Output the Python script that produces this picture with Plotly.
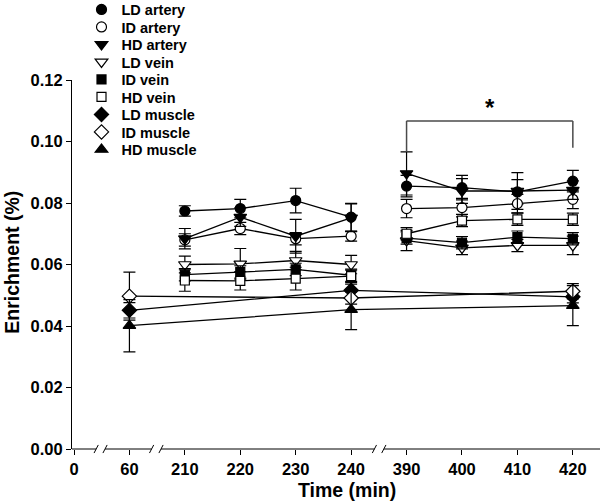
import plotly.graph_objects as go

# ---- data ----
time_labels = ["0", "60", "210", "220", "230", "240", "390", "400", "410", "420"]
blood_times = [210, 220, 230, 240, 390, 400, 410, 420]
muscle_times = [60, 240, 420]

ld_artery = [0.0774, 0.0782, 0.0808, 0.0754, 0.0855, 0.0850, 0.0836, 0.0871]
id_artery = [0.0680, 0.0717, 0.0684, 0.0692, 0.0782, 0.0785, 0.0798, 0.0812]
hd_artery = [0.0684, 0.0754, 0.0692, 0.0752, 0.0896, 0.0839, 0.0839, 0.0842]
ld_vein = [0.0600, 0.0602, 0.0613, 0.0600, 0.0678, 0.0654, 0.0662, 0.0662]
id_vein = [0.0567, 0.0576, 0.0584, 0.0565, 0.0686, 0.0671, 0.0689, 0.0684]
hd_vein = [0.0548, 0.0547, 0.0554, 0.0562, 0.0700, 0.0743, 0.0747, 0.0747]
ld_muscle = [0.0451, 0.0516, 0.0495]
id_muscle = [0.0497, 0.0491, 0.0513]
hd_muscle = [0.0401, 0.0453, 0.0466]

ld_artery_err = [0.0017, 0.0030, 0.0040, 0.0045, 0.0035, 0.0040, 0.0040, 0.0035]
id_artery_err = [0.0020, 0.0020, 0.0020, 0.0016, 0.0030, 0.0030, 0.0030, 0.0030]
hd_artery_err = [0.0033, 0.0030, 0.0055, 0.0045, 0.0070, 0.0040, 0.0060, 0.0030]
ld_vein_err = [0.0027, 0.0050, 0.0030, 0.0030, 0.0033, 0.0022, 0.0020, 0.0030]
id_vein_err = [0.0020, 0.0020, 0.0020, 0.0020, 0.0020, 0.0020, 0.0020, 0.0020]
hd_vein_err = [0.0035, 0.0030, 0.0037, 0.0020, 0.0020, 0.0020, 0.0020, 0.0020]
ld_muscle_err = [0.0025, 0.0020, 0.0020]
id_muscle_err = [0.0078, 0.0020, 0.0025]
hd_muscle_err = [0.0085, 0.0065, 0.0065]

series = [
    ("LD artery", blood_times, ld_artery, ld_artery_err, "circle", "black", 10),
    ("ID artery", blood_times, id_artery, id_artery_err, "circle", "white", 10),
    ("HD artery", blood_times, hd_artery, hd_artery_err, "triangle-down", "black", 11),
    ("LD vein", blood_times, ld_vein, ld_vein_err, "triangle-down", "white", 11),
    ("ID vein", blood_times, id_vein, id_vein_err, "square", "black", 9),
    ("HD vein", blood_times, hd_vein, hd_vein_err, "square", "white", 9),
    ("LD muscle", muscle_times, ld_muscle, ld_muscle_err, "diamond", "black", 11),
    ("ID muscle", muscle_times, id_muscle, id_muscle_err, "diamond", "white", 11),
    ("HD muscle", muscle_times, hd_muscle, hd_muscle_err, "triangle-up", "black", 11),
]

FONT = "Liberation Sans, Arial, Helvetica, sans-serif"
X0, X1 = -0.036, 9.49
PLOT_TOP, PLOT_BOTTOM = 80, 449  # pixel rows of the plot area


def pos(t):
    return time_labels.index(str(t))


fig = go.Figure()

for name, times, vals, errs, sym, fill, size in series:
    xs, ys, es = [], [], []
    prev = None
    for t, v, e in zip(times, vals, errs):
        # blood series are not connected across the 240 -> 390 axis break
        if prev == 240 and t == 390:
            xs.append(None); ys.append(None); es.append(None)
        xs.append(pos(t)); ys.append(v); es.append(e)
        prev = t
    fig.add_trace(go.Scatter(
        x=xs, y=ys, mode="lines+markers", showlegend=False,
        line=dict(color="black", width=1.3),
        marker=dict(symbol=sym, size=size, color=fill, line=dict(color="black", width=1.2)),
        error_y=dict(type="data", array=es, color="black", thickness=1.2, width=6),
        connectgaps=False,
    ))

legend_layouts = {}
for i, (name, times, vals, errs, sym, fill, size) in enumerate(series):
    key = "legend" if i == 0 else f"legend{i + 1}"
    fig.add_trace(go.Scatter(
        x=[None], y=[None], mode="markers", name=name, legend=key,
        marker=dict(symbol=sym, size=size, color=fill, line=dict(color="black", width=1.2)),
    ))
    row_center = 9.5 + 17.5 * i
    legend_layouts[key] = dict(
        x=0.018, y=(PLOT_BOTTOM - row_center) / (PLOT_BOTTOM - PLOT_TOP),
        xanchor="left", yanchor="middle", bgcolor="rgba(0,0,0,0)",
        font=dict(family=FONT, size=14.5, color="black", weight="bold"),
        itemsizing="trace",
    )


def px(xd):
    return (xd - X0) / (X1 - X0)


shapes = []
# broken x axis line
breaks = [(0.40, 0.56), (1.40, 1.57), (5.42, 5.59)]
seg_start = X0
for a, b in breaks:
    shapes.append(dict(type="line", xref="paper", yref="paper", x0=px(seg_start), x1=px(a),
                       y0=0, y1=0, line=dict(color="black", width=1)))
    for xb in (a, b):
        shapes.append(dict(type="line", xref="paper", yref="paper",
                           x0=px(xb) - 0.004, x1=px(xb) + 0.004, y0=-0.011, y1=0.011,
                           line=dict(color="black", width=1)))
    seg_start = b
shapes.append(dict(type="line", xref="paper", yref="paper", x0=px(seg_start), x1=1,
                   y0=0, y1=0, line=dict(color="black", width=1)))

# significance bracket
bracket_color = "#4a4a4a"
shapes.append(dict(type="line", xref="x", yref="y", x0=pos(390), x1=pos(390), y0=0.0967, y1=0.1067,
                   line=dict(color=bracket_color, width=1.5)))
shapes.append(dict(type="line", xref="x", yref="y", x0=pos(390), x1=pos(420), y0=0.1067, y1=0.1067,
                   line=dict(color=bracket_color, width=1.5)))
shapes.append(dict(type="line", xref="x", yref="y", x0=pos(420), x1=pos(420), y0=0.0980, y1=0.1067,
                   line=dict(color=bracket_color, width=1.5)))

annotations = [
    dict(text="*", x=7.5, y=0.1112, xref="x", yref="y", showarrow=False,
         font=dict(family=FONT, size=24, color="black", weight="bold")),
    dict(text="Time (min)", x=0.521, y=-0.111, xref="paper", yref="paper", showarrow=False,
         font=dict(family=FONT, size=19.5, color="black", weight="bold"), yanchor="middle"),
    dict(text="Enrichment (%)", x=-0.1136, y=0.505, xref="paper", yref="paper", showarrow=False,
         textangle=-90, font=dict(family=FONT, size=19.5, color="black", weight="bold"),
         xanchor="center", yanchor="middle"),
]

fig.update_layout(
    width=600, height=501,
    margin=dict(l=72, r=0, t=PLOT_TOP, b=501 - PLOT_BOTTOM, autoexpand=False),
    paper_bgcolor="white", plot_bgcolor="white",
    font=dict(family=FONT, color="black"),
    shapes=shapes, annotations=annotations,
    xaxis=dict(range=[X0, X1], tickmode="array", tickvals=list(range(len(time_labels))),
               ticktext=time_labels, ticks="outside", ticklen=5, tickcolor="black",
               showline=False, showgrid=False, zeroline=False,
               tickfont=dict(family=FONT, size=16.5, color="black", weight="bold")),
    yaxis=dict(range=[0, 0.12], tickmode="array", tickvals=[0, 0.02, 0.04, 0.06, 0.08, 0.10, 0.12],
               tickformat=".2f", ticks="outside", ticklen=5, tickcolor="black",
               showline=True, linecolor="black", linewidth=1, showgrid=False, zeroline=False,
               tickfont=dict(family=FONT, size=16.5, color="black", weight="bold")),
)
fig.update_layout(**legend_layouts)

fig.write_html("out.html", config={"displayModeBar": False},
               post_script="document.body.style.margin='0';")
